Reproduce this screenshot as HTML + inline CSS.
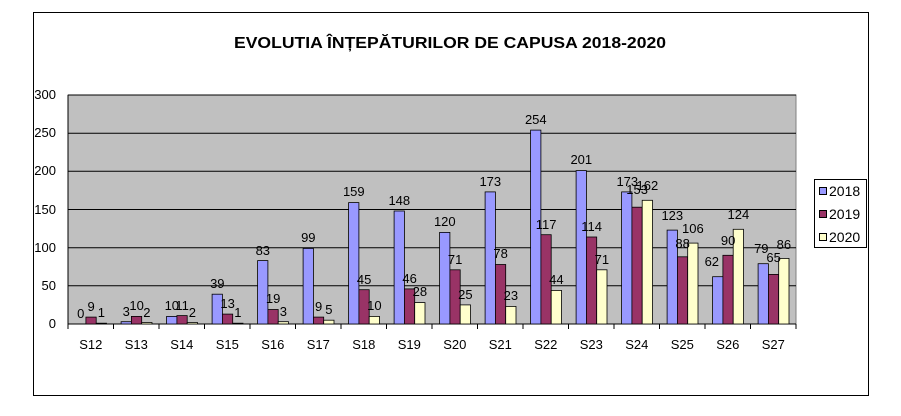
<!DOCTYPE html>
<html><head><meta charset="utf-8"><style>
html,body{margin:0;padding:0;background:#fff;}
svg{display:block;font-family:"Liberation Sans",Arial,sans-serif;}
</style></head><body>
<svg width="901" height="416" viewBox="0 0 901 416" xmlns="http://www.w3.org/2000/svg">
<rect x="0" y="0" width="901" height="416" fill="#fff"/>
<rect x="33.5" y="12.5" width="835" height="383" fill="#fff" stroke="#000" stroke-width="1"/>
<text x="450" y="48" text-anchor="middle" font-size="16" font-weight="bold" textLength="432" lengthAdjust="spacingAndGlyphs">EVOLUTIA ÎNȚEPĂTURILOR DE CAPUSA 2018-2020</text>
<rect x="68" y="95" width="728" height="229" fill="#c0c0c0" stroke="#808080" stroke-width="1"/>
<g stroke="#000" stroke-width="1">
<line x1="68" y1="285.8" x2="796" y2="285.8"/>
<line x1="68" y1="247.7" x2="796" y2="247.7"/>
<line x1="68" y1="209.5" x2="796" y2="209.5"/>
<line x1="68" y1="171.3" x2="796" y2="171.3"/>
<line x1="68" y1="133.2" x2="796" y2="133.2"/>
<line x1="68" y1="95" x2="796" y2="95"/>
<line x1="68" y1="324" x2="796" y2="324"/>
<line x1="68" y1="95" x2="68" y2="324"/>
<line x1="68" y1="324" x2="68" y2="329"/><line x1="113.5" y1="324" x2="113.5" y2="329"/><line x1="159" y1="324" x2="159" y2="329"/><line x1="204.5" y1="324" x2="204.5" y2="329"/><line x1="250" y1="324" x2="250" y2="329"/><line x1="295.5" y1="324" x2="295.5" y2="329"/><line x1="341" y1="324" x2="341" y2="329"/><line x1="386.5" y1="324" x2="386.5" y2="329"/><line x1="432" y1="324" x2="432" y2="329"/><line x1="477.5" y1="324" x2="477.5" y2="329"/><line x1="523" y1="324" x2="523" y2="329"/><line x1="568.5" y1="324" x2="568.5" y2="329"/><line x1="614" y1="324" x2="614" y2="329"/><line x1="659.5" y1="324" x2="659.5" y2="329"/><line x1="705" y1="324" x2="705" y2="329"/><line x1="750.5" y1="324" x2="750.5" y2="329"/><line x1="796" y1="324" x2="796" y2="329"/>
</g>
<g font-size="13" text-anchor="end" fill="#000">
<text x="56" y="328">0</text><text x="56" y="290">50</text><text x="56" y="252">100</text>
<text x="56" y="214">150</text><text x="56" y="175">200</text><text x="56" y="137">250</text><text x="56" y="99">300</text>
</g>
<g font-size="13" text-anchor="middle">
<text x="90.8" y="349">S12</text><text x="136.3" y="349">S13</text><text x="181.8" y="349">S14</text><text x="227.3" y="349">S15</text><text x="272.8" y="349">S16</text><text x="318.3" y="349">S17</text><text x="363.8" y="349">S18</text><text x="409.3" y="349">S19</text><text x="454.8" y="349">S20</text><text x="500.3" y="349">S21</text><text x="545.8" y="349">S22</text><text x="591.3" y="349">S23</text><text x="636.8" y="349">S24</text><text x="682.3" y="349">S25</text><text x="727.8" y="349">S26</text><text x="773.3" y="349">S27</text>
</g>
<g stroke="#000" stroke-width="0.8">
<g fill="#9999ff">
<rect x="121.1" y="321.7" width="10.3" height="2.3"/>
<rect x="166.6" y="316.4" width="10.3" height="7.6"/>
<rect x="212.1" y="294.2" width="10.3" height="29.8"/>
<rect x="257.6" y="260.6" width="10.3" height="63.4"/>
<rect x="303.1" y="248.4" width="10.3" height="75.6"/>
<rect x="348.6" y="202.6" width="10.3" height="121.4"/>
<rect x="394.1" y="211" width="10.3" height="113"/>
<rect x="439.6" y="232.4" width="10.3" height="91.6"/>
<rect x="485.1" y="191.9" width="10.3" height="132.1"/>
<rect x="530.6" y="130.1" width="10.3" height="193.9"/>
<rect x="576.1" y="170.6" width="10.3" height="153.4"/>
<rect x="621.6" y="191.9" width="10.3" height="132.1"/>
<rect x="667.1" y="230.1" width="10.3" height="93.9"/>
<rect x="712.6" y="276.7" width="10.3" height="47.3"/>
<rect x="758.1" y="263.7" width="10.3" height="60.3"/>
</g>
<g fill="#993366">
<rect x="85.9" y="317.1" width="10.3" height="6.9"/>
<rect x="131.4" y="316.4" width="10.3" height="7.6"/>
<rect x="176.9" y="315.6" width="10.3" height="8.4"/>
<rect x="222.4" y="314.1" width="10.3" height="9.9"/>
<rect x="267.9" y="309.5" width="10.3" height="14.5"/>
<rect x="313.4" y="317.1" width="10.3" height="6.9"/>
<rect x="358.9" y="289.7" width="10.3" height="34.3"/>
<rect x="404.4" y="288.9" width="10.3" height="35.1"/>
<rect x="449.9" y="269.8" width="10.3" height="54.2"/>
<rect x="495.4" y="264.5" width="10.3" height="59.5"/>
<rect x="540.9" y="234.7" width="10.3" height="89.3"/>
<rect x="586.4" y="237" width="10.3" height="87"/>
<rect x="631.9" y="207.2" width="10.3" height="116.8"/>
<rect x="677.4" y="256.8" width="10.3" height="67.2"/>
<rect x="722.9" y="255.3" width="10.3" height="68.7"/>
<rect x="768.4" y="274.4" width="10.3" height="49.6"/>
</g>
<g fill="#ffffcc">
<rect x="96.2" y="323.2" width="10.3" height="0.8"/>
<rect x="141.7" y="322.5" width="10.3" height="1.5"/>
<rect x="187.2" y="322.5" width="10.3" height="1.5"/>
<rect x="232.7" y="323.2" width="10.3" height="0.8"/>
<rect x="278.2" y="321.7" width="10.3" height="2.3"/>
<rect x="323.7" y="320.2" width="10.3" height="3.8"/>
<rect x="369.2" y="316.4" width="10.3" height="7.6"/>
<rect x="414.7" y="302.6" width="10.3" height="21.4"/>
<rect x="460.2" y="304.9" width="10.3" height="19.1"/>
<rect x="505.7" y="306.4" width="10.3" height="17.6"/>
<rect x="551.2" y="290.4" width="10.3" height="33.6"/>
<rect x="596.7" y="269.8" width="10.3" height="54.2"/>
<rect x="642.2" y="200.3" width="10.3" height="123.7"/>
<rect x="687.7" y="243.1" width="10.3" height="80.9"/>
<rect x="733.2" y="229.3" width="10.3" height="94.7"/>
<rect x="778.7" y="258.4" width="10.3" height="65.6"/>
</g>
</g>
<g font-size="13" text-anchor="middle" fill="#000">
<text x="80.8" y="318">0</text><text x="91.1" y="311">9</text><text x="101.4" y="317">1</text>
<text x="126.3" y="316">3</text><text x="136.6" y="310">10</text><text x="146.9" y="317">2</text>
<text x="171.8" y="310">10</text><text x="182.1" y="310">11</text><text x="192.4" y="317">2</text>
<text x="217.3" y="288">39</text><text x="227.6" y="308">13</text><text x="237.9" y="317">1</text>
<text x="262.8" y="255">83</text><text x="273.1" y="303">19</text><text x="283.4" y="316">3</text>
<text x="308.3" y="242">99</text><text x="318.6" y="311">9</text><text x="328.9" y="314">5</text>
<text x="353.8" y="196">159</text><text x="364.1" y="284">45</text><text x="374.4" y="310">10</text>
<text x="399.3" y="205">148</text><text x="409.6" y="283">46</text><text x="419.9" y="296">28</text>
<text x="444.8" y="226">120</text><text x="455.1" y="264">71</text><text x="465.4" y="299">25</text>
<text x="490.3" y="186">173</text><text x="500.6" y="258">78</text><text x="510.9" y="300">23</text>
<text x="535.8" y="124">254</text><text x="546.1" y="229">117</text><text x="556.4" y="284">44</text>
<text x="581.3" y="164">201</text><text x="591.6" y="231">114</text><text x="601.9" y="264">71</text>
<text x="627.3" y="186">173</text><text x="637.1" y="194">153</text><text x="647.4" y="190">162</text>
<text x="672.3" y="220">123</text><text x="682.6" y="248">88</text><text x="692.9" y="233">106</text>
<text x="711.8" y="266">62</text><text x="728.1" y="245">90</text><text x="738.4" y="219">124</text>
<text x="761.3" y="253">79</text><text x="773.6" y="262">65</text><text x="783.9" y="249">86</text>
</g>
<rect x="814.5" y="179.5" width="52" height="68" fill="#fff" stroke="#000"/>
<rect x="819.5" y="187.5" width="7" height="7" fill="#9999ff" stroke="#000"/>
<rect x="819.5" y="210.5" width="7" height="7" fill="#993366" stroke="#000"/>
<rect x="819.5" y="233.5" width="7" height="7" fill="#ffffcc" stroke="#000"/>
<g font-size="14"><text x="829" y="196">2018</text><text x="829" y="219">2019</text><text x="829" y="242">2020</text></g>
</svg>
</body></html>
